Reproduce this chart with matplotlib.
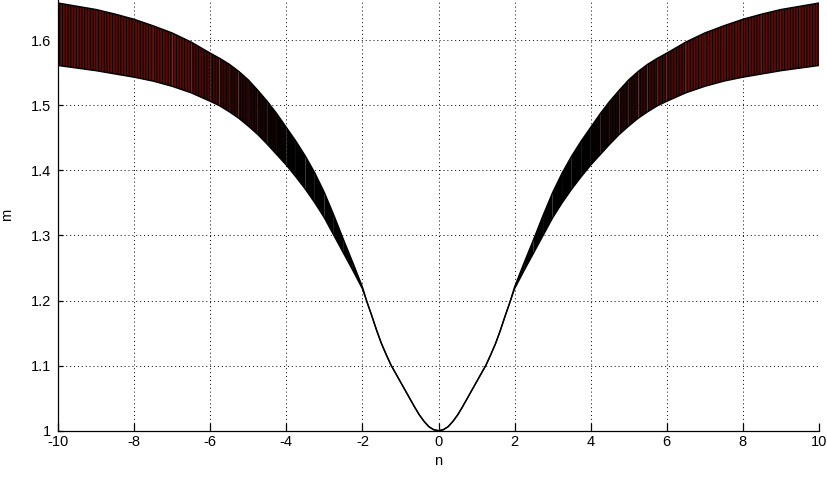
import numpy as np
import matplotlib
matplotlib.use("Agg")
import matplotlib.pyplot as plt

# values (right half, curve is symmetric about n = 0)
n_half = [0, 0.125, 0.25, 0.375, 0.5, 0.625, 0.75, 0.875, 1, 1.125, 1.25,
          1.375, 1.5, 1.625, 1.75, 1.875, 2, 2.25, 2.5, 2.75, 3, 3.25, 3.5,
          3.75, 4, 4.25, 4.5, 4.75, 5, 5.25, 5.5, 5.75, 6, 6.5, 7, 7.5, 8,
          8.5, 9, 9.5, 10]
m_low_half = [1.0, 1.0015, 1.006, 1.014, 1.024, 1.036, 1.049, 1.062, 1.075,
              1.088, 1.101, 1.117, 1.134, 1.154, 1.176, 1.197, 1.218,
              1.246, 1.273, 1.3, 1.327, 1.35, 1.371, 1.39, 1.408, 1.424,
              1.44, 1.455, 1.468, 1.48, 1.49, 1.499, 1.506, 1.519, 1.529,
              1.537, 1.543, 1.548, 1.553, 1.557, 1.561]
m_up_half = [1.0, 1.0015, 1.006, 1.014, 1.024, 1.036, 1.049, 1.062, 1.075,
             1.088, 1.101, 1.117, 1.134, 1.154, 1.176, 1.197, 1.221,
             1.258, 1.294, 1.331, 1.366, 1.396, 1.422, 1.445, 1.466, 1.487,
             1.506, 1.523, 1.539, 1.552, 1.563, 1.572, 1.58, 1.597, 1.611,
             1.622, 1.632, 1.64, 1.647, 1.652, 1.657]

x_ticks = [-10, -8, -6, -4, -2, 0, 2, 4, 6, 8, 10]
y_ticks = [1, 1.1, 1.2, 1.3, 1.4, 1.5, 1.6]
y_tick_labels = ["1", "1.1", "1.2", "1.3", "1.4", "1.5", "1.6"]

n = np.concatenate([-np.array(n_half[::-1]), np.array(n_half[1:])])
m_low = np.concatenate([m_low_half[::-1], m_low_half[1:]])
m_up = np.concatenate([m_up_half[::-1], m_up_half[1:]])

plt.rcParams["font.family"] = ["Liberation Sans", "DejaVu Sans"]
plt.rcParams["hatch.linewidth"] = 0.6
plt.rcParams["hatch.color"] = "black"

fig = plt.figure(figsize=(8.27, 4.82), dpi=100)
ax = fig.add_axes([58 / 827, 51.3 / 482, (819 - 58) / 827, 430.7 / 482])

# mesh band: black where the curves bunch up, dark red further out
red = np.array([0.34, 0.05, 0.04])
for i in range(len(n) - 1):
	mid = abs(n[i] + n[i + 1]) / 2
	t = np.clip((mid - 3.8) / 3.0, 0, 1)
	col = tuple(red * t)
	ax.fill_between(n[i:i + 2], m_low[i:i + 2], m_up[i:i + 2],
			facecolor=col, edgecolor="none", hatch="||||||", lw=0, zorder=2)

ax.plot(n, m_low, color="black", lw=1.0, zorder=3)
ax.plot(n, m_up, color="black", lw=1.0, zorder=3)

ax.set_xlim(-10, 10)
ax.set_ylim(1, 1.6616)
ax.set_xticks(x_ticks)
ax.set_xticklabels([str(v) for v in x_ticks])
ax.set_yticks(y_ticks)
ax.set_yticklabels(y_tick_labels)

ax.grid(True, color="black", linestyle=(0, (1, 3)), linewidth=0.7)
ax.set_axisbelow(True)
ax.spines["top"].set_visible(False)
ax.spines["right"].set_visible(False)
for s in ("left", "bottom"):
	ax.spines[s].set_linewidth(0.9)
ax.tick_params(axis="x", direction="in", length=6, width=0.9, labelsize=10.5, pad=3, colors="black")
ax.tick_params(axis="y", direction="in", length=3.5, width=0.9, labelsize=10.5, pad=5, colors="black")

ax.set_xlabel("n", fontsize=10.5, labelpad=4)
ax.set_ylabel("m", fontsize=10.5, labelpad=12)

fig.savefig("out.png", dpi=100)
